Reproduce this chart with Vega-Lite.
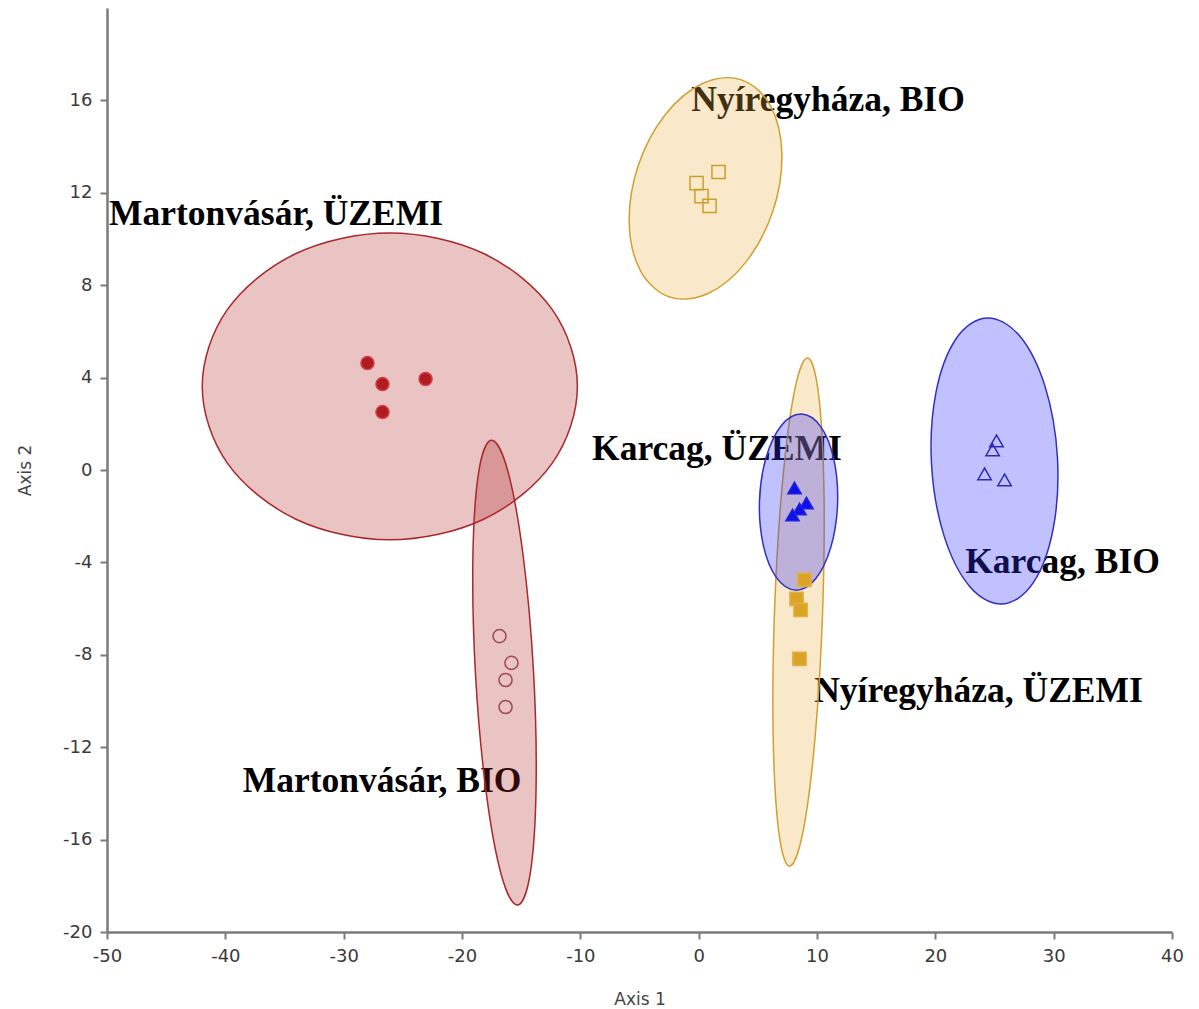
{
  "$schema": "https://vega.github.io/schema/vega-lite/v6.json",
  "width": 1065,
  "height": 924,
  "autosize": {"type": "none"},
  "padding": {"left": 107, "top": 8, "right": 27, "bottom": 77},
  "background": "white",
  "config": {
    "view": {"stroke": null},
    "axis": {
      "grid": false,
      "domainColor": "#7a7a7a",
      "domainWidth": 2.5,
      "tickColor": "#7a7a7a",
      "tickWidth": 2,
      "tickSize": 7,
      "labelFont": "DejaVu Sans",
      "labelFontSize": 18,
      "labelColor": "#3a3a3a",
      "labelPadding": 8,
      "labelFlush": false,
      "labelExpr": "replace(datum.label, '\u2212', '-')",
      "titleFont": "DejaVu Sans",
      "titleFontSize": 17,
      "titleFontWeight": "normal",
      "titleColor": "#444444"
    }
  },
  "datasets": {
    "points": [
      {"group": "Martonvásár, ÜZEMI", "x": -27.99, "y": 4.63},
      {"group": "Martonvásár, ÜZEMI", "x": -26.72, "y": 3.72},
      {"group": "Martonvásár, ÜZEMI", "x": -23.08, "y": 3.94},
      {"group": "Martonvásár, ÜZEMI", "x": -26.72, "y": 2.51},
      {"group": "Martonvásár, BIO", "x": -16.83, "y": -7.19},
      {"group": "Martonvásár, BIO", "x": -15.82, "y": -8.35},
      {"group": "Martonvásár, BIO", "x": -16.32, "y": -9.09},
      {"group": "Martonvásár, BIO", "x": -16.32, "y": -10.26},
      {"group": "Nyíregyháza, BIO", "x": 1.68, "y": 12.9},
      {"group": "Nyíregyháza, BIO", "x": -0.18, "y": 12.42},
      {"group": "Nyíregyháza, BIO", "x": 0.24, "y": 11.86},
      {"group": "Nyíregyháza, BIO", "x": 0.92, "y": 11.43},
      {"group": "Nyíregyháza, ÜZEMI", "x": 8.94, "y": -4.76},
      {"group": "Nyíregyháza, ÜZEMI", "x": 8.27, "y": -5.58},
      {"group": "Nyíregyháza, ÜZEMI", "x": 8.61, "y": -6.06},
      {"group": "Nyíregyháza, ÜZEMI", "x": 8.52, "y": -8.18},
      {"group": "Karcag, ÜZEMI", "x": 8.1, "y": -0.78},
      {"group": "Karcag, ÜZEMI", "x": 9.11, "y": -1.43},
      {"group": "Karcag, ÜZEMI", "x": 8.52, "y": -1.69},
      {"group": "Karcag, ÜZEMI", "x": 7.93, "y": -1.95},
      {"group": "Karcag, BIO", "x": 25.17, "y": 1.26},
      {"group": "Karcag, BIO", "x": 24.84, "y": 0.87},
      {"group": "Karcag, BIO", "x": 24.16, "y": -0.17},
      {"group": "Karcag, BIO", "x": 25.85, "y": -0.43}
    ],
    "ellipses": [
      {"site": "Martonvásár", "group": "Martonvásár, ÜZEMI", "i": 0, "x": -10.25, "y": 3.62},
      {"site": "Martonvásár", "group": "Martonvásár, ÜZEMI", "i": 1, "x": -12.37, "y": 6.94},
      {"site": "Martonvásár", "group": "Martonvásár, ÜZEMI", "i": 2, "x": -18.17, "y": 9.37},
      {"site": "Martonvásár", "group": "Martonvásár, ÜZEMI", "i": 3, "x": -26.1, "y": 10.26},
      {"site": "Martonvásár", "group": "Martonvásár, ÜZEMI", "i": 4, "x": -34.03, "y": 9.37},
      {"site": "Martonvásár", "group": "Martonvásár, ÜZEMI", "i": 5, "x": -39.83, "y": 6.94},
      {"site": "Martonvásár", "group": "Martonvásár, ÜZEMI", "i": 6, "x": -41.95, "y": 3.62},
      {"site": "Martonvásár", "group": "Martonvásár, ÜZEMI", "i": 7, "x": -39.83, "y": 0.3},
      {"site": "Martonvásár", "group": "Martonvásár, ÜZEMI", "i": 8, "x": -34.03, "y": -2.13},
      {"site": "Martonvásár", "group": "Martonvásár, ÜZEMI", "i": 9, "x": -26.1, "y": -3.02},
      {"site": "Martonvásár", "group": "Martonvásár, ÜZEMI", "i": 10, "x": -18.17, "y": -2.13},
      {"site": "Martonvásár", "group": "Martonvásár, ÜZEMI", "i": 11, "x": -12.37, "y": 0.3},
      {"site": "Martonvásár", "group": "Martonvásár, BIO", "i": 0, "x": -15.31, "y": -18.83},
      {"site": "Martonvásár", "group": "Martonvásár, BIO", "i": 1, "x": -14.23, "y": -17.45},
      {"site": "Martonvásár", "group": "Martonvásár, BIO", "i": 2, "x": -13.74, "y": -13.74},
      {"site": "Martonvásár", "group": "Martonvásár, BIO", "i": 3, "x": -13.96, "y": -8.7},
      {"site": "Martonvásár", "group": "Martonvásár, BIO", "i": 4, "x": -14.84, "y": -3.68},
      {"site": "Martonvásár", "group": "Martonvásár, BIO", "i": 5, "x": -16.14, "y": -0.02},
      {"site": "Martonvásár", "group": "Martonvásár, BIO", "i": 6, "x": -17.51, "y": 1.29},
      {"site": "Martonvásár", "group": "Martonvásár, BIO", "i": 7, "x": -18.59, "y": -0.09},
      {"site": "Martonvásár", "group": "Martonvásár, BIO", "i": 8, "x": -19.08, "y": -3.8},
      {"site": "Martonvásár", "group": "Martonvásár, BIO", "i": 9, "x": -18.86, "y": -8.84},
      {"site": "Martonvásár", "group": "Martonvásár, BIO", "i": 10, "x": -17.98, "y": -13.86},
      {"site": "Martonvásár", "group": "Martonvásár, BIO", "i": 11, "x": -16.68, "y": -17.52},
      {"site": "Nyíregyháza", "group": "Nyíregyháza, BIO", "i": 0, "x": 3.62, "y": 16.89},
      {"site": "Nyíregyháza", "group": "Nyíregyháza, BIO", "i": 1, "x": 6.06, "y": 15.77},
      {"site": "Nyíregyháza", "group": "Nyíregyháza, BIO", "i": 2, "x": 7.03, "y": 13.7},
      {"site": "Nyíregyháza", "group": "Nyíregyháza, BIO", "i": 3, "x": 6.28, "y": 11.22},
      {"site": "Nyíregyháza", "group": "Nyíregyháza, BIO", "i": 4, "x": 3.99, "y": 9.0},
      {"site": "Nyíregyháza", "group": "Nyíregyháza, BIO", "i": 5, "x": 0.79, "y": 7.64},
      {"site": "Nyíregyháza", "group": "Nyíregyháza, BIO", "i": 6, "x": -2.46, "y": 7.49},
      {"site": "Nyíregyháza", "group": "Nyíregyháza, BIO", "i": 7, "x": -4.9, "y": 8.61},
      {"site": "Nyíregyháza", "group": "Nyíregyháza, BIO", "i": 8, "x": -5.87, "y": 10.68},
      {"site": "Nyíregyháza", "group": "Nyíregyháza, BIO", "i": 9, "x": -5.12, "y": 13.16},
      {"site": "Nyíregyháza", "group": "Nyíregyháza, BIO", "i": 10, "x": -2.83, "y": 15.38},
      {"site": "Nyíregyháza", "group": "Nyíregyháza, BIO", "i": 11, "x": 0.37, "y": 16.74},
      {"site": "Nyíregyháza", "group": "Nyíregyháza, ÜZEMI", "i": 0, "x": 7.68, "y": -17.15},
      {"site": "Nyíregyháza", "group": "Nyíregyháza, ÜZEMI", "i": 1, "x": 8.8, "y": -15.7},
      {"site": "Nyíregyháza", "group": "Nyíregyháza, ÜZEMI", "i": 2, "x": 9.82, "y": -11.68},
      {"site": "Nyíregyháza", "group": "Nyíregyháza, ÜZEMI", "i": 3, "x": 10.47, "y": -6.19},
      {"site": "Nyíregyháza", "group": "Nyíregyháza, ÜZEMI", "i": 4, "x": 10.58, "y": -0.68},
      {"site": "Nyíregyháza", "group": "Nyíregyháza, ÜZEMI", "i": 5, "x": 10.11, "y": 3.36},
      {"site": "Nyíregyháza", "group": "Nyíregyháza, ÜZEMI", "i": 6, "x": 9.2, "y": 4.85},
      {"site": "Nyíregyháza", "group": "Nyíregyháza, ÜZEMI", "i": 7, "x": 8.09, "y": 3.4},
      {"site": "Nyíregyháza", "group": "Nyíregyháza, ÜZEMI", "i": 8, "x": 7.07, "y": -0.62},
      {"site": "Nyíregyháza", "group": "Nyíregyháza, ÜZEMI", "i": 9, "x": 6.41, "y": -6.11},
      {"site": "Nyíregyháza", "group": "Nyíregyháza, ÜZEMI", "i": 10, "x": 6.3, "y": -11.62},
      {"site": "Nyíregyháza", "group": "Nyíregyháza, ÜZEMI", "i": 11, "x": 6.77, "y": -15.66},
      {"site": "Karcag", "group": "Karcag, ÜZEMI", "i": 0, "x": 8.19, "y": -5.2},
      {"site": "Karcag", "group": "Karcag, ÜZEMI", "i": 1, "x": 9.87, "y": -4.72},
      {"site": "Karcag", "group": "Karcag, ÜZEMI", "i": 2, "x": 11.17, "y": -3.34},
      {"site": "Karcag", "group": "Karcag, ÜZEMI", "i": 3, "x": 11.74, "y": -1.45},
      {"site": "Karcag", "group": "Karcag, ÜZEMI", "i": 4, "x": 11.42, "y": 0.47},
      {"site": "Karcag", "group": "Karcag, ÜZEMI", "i": 5, "x": 10.31, "y": 1.88},
      {"site": "Karcag", "group": "Karcag, ÜZEMI", "i": 6, "x": 8.69, "y": 2.42},
      {"site": "Karcag", "group": "Karcag, ÜZEMI", "i": 7, "x": 7.01, "y": 1.94},
      {"site": "Karcag", "group": "Karcag, ÜZEMI", "i": 8, "x": 5.71, "y": 0.56},
      {"site": "Karcag", "group": "Karcag, ÜZEMI", "i": 9, "x": 5.14, "y": -1.33},
      {"site": "Karcag", "group": "Karcag, ÜZEMI", "i": 10, "x": 5.46, "y": -3.25},
      {"site": "Karcag", "group": "Karcag, ÜZEMI", "i": 11, "x": 6.57, "y": -4.66},
      {"site": "Karcag", "group": "Karcag, BIO", "i": 0, "x": 25.68, "y": -5.8},
      {"site": "Karcag", "group": "Karcag, BIO", "i": 1, "x": 28.25, "y": -4.9},
      {"site": "Karcag", "group": "Karcag, BIO", "i": 2, "x": 29.95, "y": -2.57},
      {"site": "Karcag", "group": "Karcag, BIO", "i": 3, "x": 30.32, "y": 0.54},
      {"site": "Karcag", "group": "Karcag, BIO", "i": 4, "x": 29.27, "y": 3.62},
      {"site": "Karcag", "group": "Karcag, BIO", "i": 5, "x": 27.08, "y": 5.83},
      {"site": "Karcag", "group": "Karcag, BIO", "i": 6, "x": 24.32, "y": 6.58},
      {"site": "Karcag", "group": "Karcag, BIO", "i": 7, "x": 21.75, "y": 5.68},
      {"site": "Karcag", "group": "Karcag, BIO", "i": 8, "x": 20.05, "y": 3.35},
      {"site": "Karcag", "group": "Karcag, BIO", "i": 9, "x": 19.68, "y": 0.24},
      {"site": "Karcag", "group": "Karcag, BIO", "i": 10, "x": 20.73, "y": -2.84},
      {"site": "Karcag", "group": "Karcag, BIO", "i": 11, "x": 22.92, "y": -5.05}
    ],
    "labels": [
      {"label": "Nyíregyháza, BIO", "x": 10.93, "y": 15.52},
      {"label": "Martonvásár, ÜZEMI", "x": -35.72, "y": 10.61},
      {"label": "Karcag, ÜZEMI", "x": 1.55, "y": 0.43},
      {"label": "Karcag, BIO", "x": 30.75, "y": -4.44},
      {"label": "Nyíregyháza, ÜZEMI", "x": 23.65, "y": -10.06},
      {"label": "Martonvásár, BIO", "x": -26.76, "y": -13.92}
    ]
  },
  "encoding": {
    "x": {
      "field": "x",
      "type": "quantitative",
      "scale": {"domain": [-50, 40], "nice": false, "zero": false},
      "axis": {"title": "Axis 1", "values": [-50, -40, -30, -20, -10, 0, 10, 20, 30, 40], "titlePadding": 26}
    },
    "y": {
      "field": "y",
      "type": "quantitative",
      "scale": {"domain": [-20, 20], "nice": false, "zero": false},
      "axis": {"title": "Axis 2", "values": [-20, -16, -12, -8, -4, 0, 4, 8, 12, 16], "titlePadding": 28}
    }
  },
  "layer": [
    {
      "data": {"name": "labels"},
      "mark": {"type": "text", "font": "Liberation Serif", "fontWeight": "bold", "fontSize": 35.5, "baseline": "alphabetic", "align": "center", "color": "#000000"},
      "encoding": {"text": {"field": "label"}}
    },
    {
      "data": {"name": "ellipses"},
      "transform": [{"filter": "datum.site === 'Martonvásár'"}],
      "mark": {"type": "line", "interpolate": "cardinal-closed", "stroke": "#a8282c", "strokeWidth": 1.5, "fill": "#b22222", "fillOpacity": 0.27},
      "encoding": {"detail": {"field": "group"}, "order": {"field": "i", "type": "quantitative"}}
    },
    {
      "data": {"name": "ellipses"},
      "transform": [{"filter": "datum.site === 'Nyíregyháza'"}],
      "mark": {"type": "line", "interpolate": "cardinal-closed", "stroke": "#d0a030", "strokeWidth": 1.5, "fill": "#e8b040", "fillOpacity": 0.28},
      "encoding": {"detail": {"field": "group"}, "order": {"field": "i", "type": "quantitative"}}
    },
    {
      "data": {"name": "ellipses"},
      "transform": [{"filter": "datum.site === 'Karcag'"}],
      "mark": {"type": "line", "interpolate": "cardinal-closed", "stroke": "#3030c0", "strokeWidth": 1.5, "fill": "#3333ff", "fillOpacity": 0.3},
      "encoding": {"detail": {"field": "group"}, "order": {"field": "i", "type": "quantitative"}}
    },
    {
      "data": {"name": "points"},
      "mark": {"type": "point", "filled": true, "strokeWidth": 1.5, "opacity": 1},
      "encoding": {
        "shape": {
          "field": "group", "type": "nominal", "legend": null,
          "scale": {
            "domain": ["Martonvásár, ÜZEMI", "Martonvásár, BIO", "Nyíregyháza, BIO", "Nyíregyháza, ÜZEMI", "Karcag, ÜZEMI", "Karcag, BIO"],
            "range": ["circle", "circle", "square", "square", "triangle-up", "triangle-up"]
          }
        },
        "fill": {
          "field": "group", "type": "nominal", "legend": null,
          "scale": {
            "domain": ["Martonvásár, ÜZEMI", "Martonvásár, BIO", "Nyíregyháza, BIO", "Nyíregyháza, ÜZEMI", "Karcag, ÜZEMI", "Karcag, BIO"],
            "range": ["#b01c22", "transparent", "transparent", "#dca426", "#1010ee", "transparent"]
          }
        },
        "stroke": {
          "field": "group", "type": "nominal", "legend": null,
          "scale": {
            "domain": ["Martonvásár, ÜZEMI", "Martonvásár, BIO", "Nyíregyháza, BIO", "Nyíregyháza, ÜZEMI", "Karcag, ÜZEMI", "Karcag, BIO"],
            "range": ["#d04048", "#a04850", "#c8a028", "#e0b040", "#2020e0", "#2a2ab8"]
          }
        },
        "size": {
          "field": "group", "type": "nominal", "legend": null,
          "scale": {
            "domain": ["Martonvásár, ÜZEMI", "Martonvásár, BIO", "Nyíregyháza, BIO", "Nyíregyháza, ÜZEMI", "Karcag, ÜZEMI", "Karcag, BIO"],
            "range": [170, 180, 220, 180, 150, 160]
          }
        }
      }
    }
  ]
}
